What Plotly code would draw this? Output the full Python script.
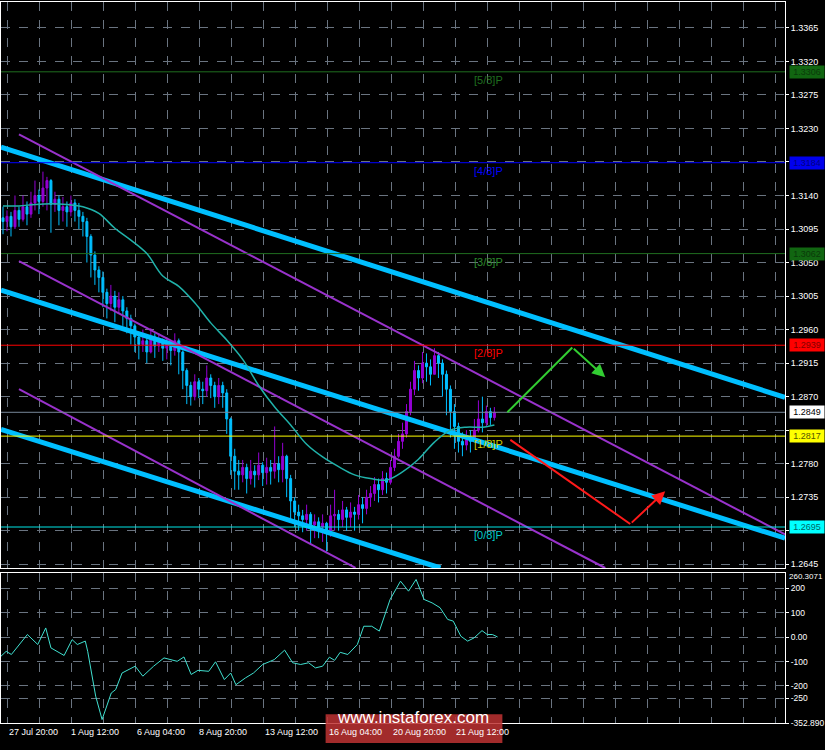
import plotly.graph_objects as go

# 4H bars, price data
close = [1.3105,1.3112,1.3098,1.3120,1.3108,1.3125,1.3115,1.3130,1.3140,1.3132,
         1.3150,1.3160,1.3128,1.3135,1.3120,1.3125,1.3118,1.3130,1.3120,1.3112,
         1.3105,1.3085,1.3060,1.3040,1.3030,1.3010,1.2995,1.3005,1.2990,1.3000,
         1.2985,1.2975,1.2965,1.2950,1.2940,1.2945,1.2930,1.2950,1.2938,1.2945,
         1.2935,1.2940,1.2932,1.2945,1.2930,1.2905,1.2885,1.2870,1.2890,1.2880,
         1.2878,1.2895,1.2885,1.2870,1.2885,1.2875,1.2840,1.2790,1.2770,1.2765,
         1.2775,1.2760,1.2770,1.2765,1.2778,1.2768,1.2775,1.2770,1.2780,1.2772,
         1.2790,1.2760,1.2730,1.2715,1.2710,1.2705,1.2712,1.2698,1.2702,1.2695,
         1.2700,1.2690,1.2710,1.2712,1.2705,1.2718,1.2708,1.2715,1.2712,1.2725,
         1.2720,1.2735,1.2740,1.2752,1.2745,1.2760,1.2755,1.2775,1.2790,1.2810,
         1.2820,1.2850,1.2880,1.2905,1.2895,1.2915,1.2910,1.2900,1.2925,1.2915,
         1.2900,1.2880,1.2850,1.2830,1.2810,1.2805,1.2812,1.2810,1.2825,1.2840,
         1.2835,1.2850,1.2842,1.2849]
high = [1.3125,1.3120,1.3118,1.3140,1.3125,1.3140,1.3132,1.3145,1.3160,1.3148,
        1.3172,1.3165,1.3162,1.3145,1.3140,1.3138,1.3132,1.3140,1.3135,1.3130,
        1.3118,1.3110,1.3088,1.3065,1.3045,1.3038,1.3015,1.3020,1.3012,1.3010,
        1.3005,1.2990,1.2980,1.2968,1.2955,1.2960,1.2950,1.2962,1.2955,1.2955,
        1.2948,1.2950,1.2945,1.2955,1.2948,1.2932,1.2908,1.2890,1.2900,1.2895,
        1.2890,1.2912,1.2900,1.2890,1.2895,1.2890,1.2880,1.2842,1.2800,1.2785,
        1.2785,1.2780,1.2785,1.2778,1.2795,1.2782,1.2788,1.2785,1.2830,1.2790,
        1.2808,1.2792,1.2765,1.2735,1.2725,1.2718,1.2725,1.2715,1.2712,1.2708,
        1.2712,1.2702,1.2725,1.2745,1.2718,1.2730,1.2722,1.2728,1.2722,1.2738,
        1.2735,1.2745,1.2750,1.2762,1.2760,1.2770,1.2768,1.2785,1.2800,1.2820,
        1.2835,1.2860,1.2890,1.2918,1.2912,1.2930,1.2928,1.2920,1.2935,1.2930,
        1.2920,1.2905,1.2885,1.2860,1.2835,1.2822,1.2825,1.2825,1.2840,1.2865,
        1.2870,1.2858,1.2855,1.2856]
low = [1.3088,1.3092,1.3085,1.3095,1.3098,1.3105,1.3100,1.3110,1.3120,1.3115,
       1.3125,1.3120,1.3090,1.3118,1.3100,1.3105,1.3098,1.3112,1.3105,1.3095,
       1.3085,1.3050,1.3030,1.3020,1.3010,1.2990,1.2975,1.2985,1.2970,1.2982,
       1.2965,1.2955,1.2940,1.2930,1.2920,1.2930,1.2915,1.2928,1.2922,1.2930,
       1.2918,1.2920,1.2912,1.2925,1.2900,1.2880,1.2860,1.2858,1.2865,1.2868,
       1.2860,1.2870,1.2868,1.2855,1.2860,1.2855,1.2820,1.2765,1.2745,1.2745,
       1.2755,1.2740,1.2752,1.2748,1.2758,1.2750,1.2752,1.2752,1.2760,1.2755,
       1.2755,1.2735,1.2705,1.2695,1.2690,1.2688,1.2690,1.2672,1.2680,1.2680,
       1.2675,1.2662,1.2682,1.2690,1.2690,1.2695,1.2690,1.2695,1.2690,1.2705,
       1.2700,1.2712,1.2722,1.2730,1.2728,1.2738,1.2740,1.2752,1.2770,1.2788,
       1.2800,1.2815,1.2845,1.2872,1.2878,1.2888,1.2890,1.2885,1.2900,1.2895,
       1.2870,1.2845,1.2815,1.2800,1.2795,1.2790,1.2798,1.2795,1.2808,1.2822,
       1.2822,1.2830,1.2832,1.2838]
first_open = 1.3110
bars = list(range(len(close)))
opens = [first_open] + close[:-1]

ma_x = [0,4,8,12,16,20,24,28,32,36,40,44,48,52,56,60,64,68,72,76,80,84,88,92,96,100,104,108,112,116,120,123]
ma_y = [1.3126,1.3126,1.3128,1.3129,1.3128,1.3125,1.3116,1.3096,1.3080,1.3062,1.3032,1.3018,
        1.2996,1.2969,1.2946,1.2920,1.2885,1.2856,1.2832,1.2806,1.2789,1.2776,1.2765,1.2760,
        1.2758,1.2769,1.2786,1.2809,1.2825,1.2829,1.2829,1.2832]

cci_x = [-0.5,0.8,2.1,4.1,6.1,8.7,10.7,12,15.3,17.3,18.6,20.6,21.2,23.2,24.8,27.1,28.2,29.8,
         33.1,35,37.7,40.3,43.6,45.3,47.1,48.8,51.5,53.2,55.4,57,58.3,60.7,62.7,65,67.9,70.5,
         72.5,74.5,76.5,78.2,80,81.7,83,84.4,86.3,88.7,90.3,92.3,94.2,96.9,99.5,101.5,103.4,
         105.4,107.4,109.4,111.3,112.7,114.6,116.3,117.9,119.9,121.2,122.5,123.8]
cci_y = [-78,-58,-71,-30,11,-30,38,-44,-75,-10,-30,-16,-58,-242,-338,-229,-215,-147,
         -119,-160,-119,-85,-99,-81,-153,-136,-140,-101,-174,-147,-195,-167,-147,-112,-92,-53,
         -105,-112,-105,-126,-119,-82,-95,-62,-71,-30,45,45,25,155,230,189,237,
         155,141,121,73,66,4,-16,-3,27,11,11,1]

# Murrey levels
levels = [1.3306, 1.3184, 1.3062, 1.2939, 1.2849, 1.2817, 1.2695]
level_names = ["[5/8]P", "[4/8]P", "[3/8]P", "[2/8]P", "", "[1/8]P", "[0/8]P"]
level_colors = ["#1f6e1f", "#0000ff", "#1f6e1f", "#ff0000", "#778899", "#ffff00", "#00e5e5"]
box_bg = ["#116611", "#0000ee", "#116611", "#ff0000", "#ffffff", "#ffff00", "#00ffff"]
box_fg = ["#0a3a0a", "#000080", "#0a3a0a", "#800000", "#000000", "#555500", "#006666"]
name_colors = ["#1f6e1f", "#0000ff", "#2e8b2e", "#ff0000", "", "#cccc00", "#00cccc"]

# trend channels (bar, price endpoints)
blue_lines = [[(-0.5, 1.3205), (195.75, 1.2869)],
              [(-0.5, 1.3013), (195.75, 1.2680)],
              [(-0.5, 1.2826), (109.5, 1.2640)]]
purple_lines = [[(4, 1.3222), (195.75, 1.2685)],
                [(4, 1.3052), (150.75, 1.2640)],
                [(4, 1.2880), (88.25, 1.2640)]]
green_arrow = [(126.25, 1.2849), (142.5, 1.2936), (150.75, 1.2896)]
red_arrow = [(127, 1.2812), (157, 1.2699), (165.75, 1.2743)]

time_labels = ["27 Jul 20:00", "1 Aug 12:00", "6 Aug 04:00", "8 Aug 20:00", "13 Aug 12:00",
               "16 Aug 04:00", "20 Aug 20:00", "21 Aug 12:00"]
time_pos = [1, 16.5, 33, 48.5, 65, 81, 97, 113]

price_ticks = [round(1.2645 + 0.0045 * k, 4) for k in range(17)]
hidden_ticks = [1.3185, 1.2690, 1.2825]
price_text = ["" if t in hidden_ticks else "%.4f" % t for t in price_ticks]
cci_ticks = [200, 100, 0, -100, -200, -250, -352.89]
cci_tick_text = ["200", "100", "0.00", "-100", "-200", "-250", "-352.890"]

XR = [-0.5, 195.75]
FONT = "Liberation Sans"
fig = go.Figure()

for (p0, p1) in blue_lines:
    fig.add_trace(go.Scatter(x=[p0[0], p1[0]], y=[p0[1], p1[1]], mode="lines",
                             line=dict(color="#00bfff", width=5), hoverinfo="skip"))
for (p0, p1) in purple_lines:
    fig.add_trace(go.Scatter(x=[p0[0], p1[0]], y=[p0[1], p1[1]], mode="lines",
                             line=dict(color="#9932cc", width=2), hoverinfo="skip"))

for lv, c in zip(levels, level_colors):
    fig.add_trace(go.Scatter(x=XR, y=[lv, lv], mode="lines", line=dict(color=c, width=1),
                             hoverinfo="skip"))

fig.add_trace(go.Candlestick(x=bars, open=opens, high=high, low=low, close=close,
                             increasing=dict(line=dict(color="#9400d3", width=1), fillcolor="#9400d3"),
                             decreasing=dict(line=dict(color="#00bfff", width=1), fillcolor="#00bfff"),
                             whiskerwidth=0))
fig.add_trace(go.Scatter(x=ma_x, y=ma_y, mode="lines", line=dict(color="#20b2aa", width=1.5, shape="spline")))

for pts, col in [(green_arrow, "#32cd32"), (red_arrow, "#ff1a1a")]:
    fig.add_trace(go.Scatter(x=[p[0] for p in pts[:2]], y=[p[1] for p in pts[:2]], mode="lines",
                             line=dict(color=col, width=2)))
    fig.add_annotation(x=pts[2][0], y=pts[2][1], ax=pts[1][0], ay=pts[1][1],
                       xref="x", yref="y", axref="x", ayref="y", text="", showarrow=True,
                       arrowhead=2, arrowsize=1.3, arrowwidth=2, arrowcolor=col)

fig.add_trace(go.Scatter(x=cci_x, y=cci_y, mode="lines", line=dict(color="#40e0d0", width=1),
                         xaxis="x2", yaxis="y2"))

for lv, nm, nc in zip(levels, level_names, name_colors):
    if nm:
        fig.add_annotation(x=117.5, y=lv, xref="x", yref="y", text=nm, showarrow=False,
                           xanchor="left", yanchor="top", font=dict(color=nc, size=11, family=FONT))
for lv, bg, fg in zip(levels, box_bg, box_fg):
    fig.add_annotation(x=789/825, y=lv, xref="paper", yref="y", text="%.4f" % lv, showarrow=False,
                       xanchor="left", yanchor="middle", bgcolor=bg, font=dict(color=fg, size=9, family=FONT),
                       borderpad=1, width=32)

for t, p in zip(time_labels, time_pos):
    fig.add_annotation(x=p, y=0.027, xref="x2", yref="paper", text=t, showarrow=False,
                       xanchor="left", yanchor="top", font=dict(color="white", size=9, family=FONT))
fig.add_annotation(x=1, y=0.2307, xref="paper", yref="paper", text="260.3071", showarrow=False,
                   xanchor="right", yanchor="top", font=dict(color="white", size=8, family=FONT), yshift=3)

fig.add_shape(type="rect", xref="paper", yref="paper", x0=325/825, x1=502/825, y0=2/750, y1=31/750,
              fillcolor="rgba(190,50,50,0.85)", line=dict(width=0))
fig.add_annotation(x=413/825, y=16/750, xref="paper", yref="paper", text="www.instaforex.com",
                   showarrow=False, font=dict(color="white", size=17))

grid = dict(showgrid=True, gridcolor="#6a7480", griddash="dash", gridwidth=1)
fig.update_layout(
    width=825, height=750, margin=dict(l=0, r=0, t=0, b=0),
    paper_bgcolor="black", plot_bgcolor="black", showlegend=False,
    font=dict(family=FONT, color="white", size=9),
    xaxis=dict(domain=[0, 0.9515], range=XR, tick0=1.25, dtick=8, showticklabels=False,
               rangeslider=dict(visible=False), anchor="y", showline=True, mirror=True,
               linecolor="white", zeroline=False, **grid),
    yaxis=dict(domain=[0.2373, 0.9973], range=[1.26397, 1.33997], side="right", tickvals=price_ticks,
               ticktext=price_text, ticks="outside", ticklen=3, tickcolor="white", showline=True,
               mirror=True, linecolor="white", zeroline=False, anchor="x", **grid),
    xaxis2=dict(domain=[0, 0.9515], range=XR, tick0=1.25, dtick=8, showticklabels=False,
                anchor="y2", showline=True, mirror=True, linecolor="white", zeroline=False, **grid),
    yaxis2=dict(domain=[0.0293, 0.2307], range=[-352.89, 263], side="right", tickvals=cci_ticks,
                ticktext=cci_tick_text, ticks="outside", ticklen=3, tickcolor="white", showline=True,
                mirror=True, linecolor="white", zeroline=False, anchor="x2",
                tickfont=dict(size=8.5), **grid),
)
fig.write_html("out.html", config={"displayModeBar": False})

# drop the default page margin so the 825x750 figure fills the window
with open("out.html") as f:
    page = f.read()
page = page.replace("<head>", "<head><style>body{margin:0;background:black;overflow:hidden}</style>", 1)
with open("out.html", "w") as f:
    f.write(page)
